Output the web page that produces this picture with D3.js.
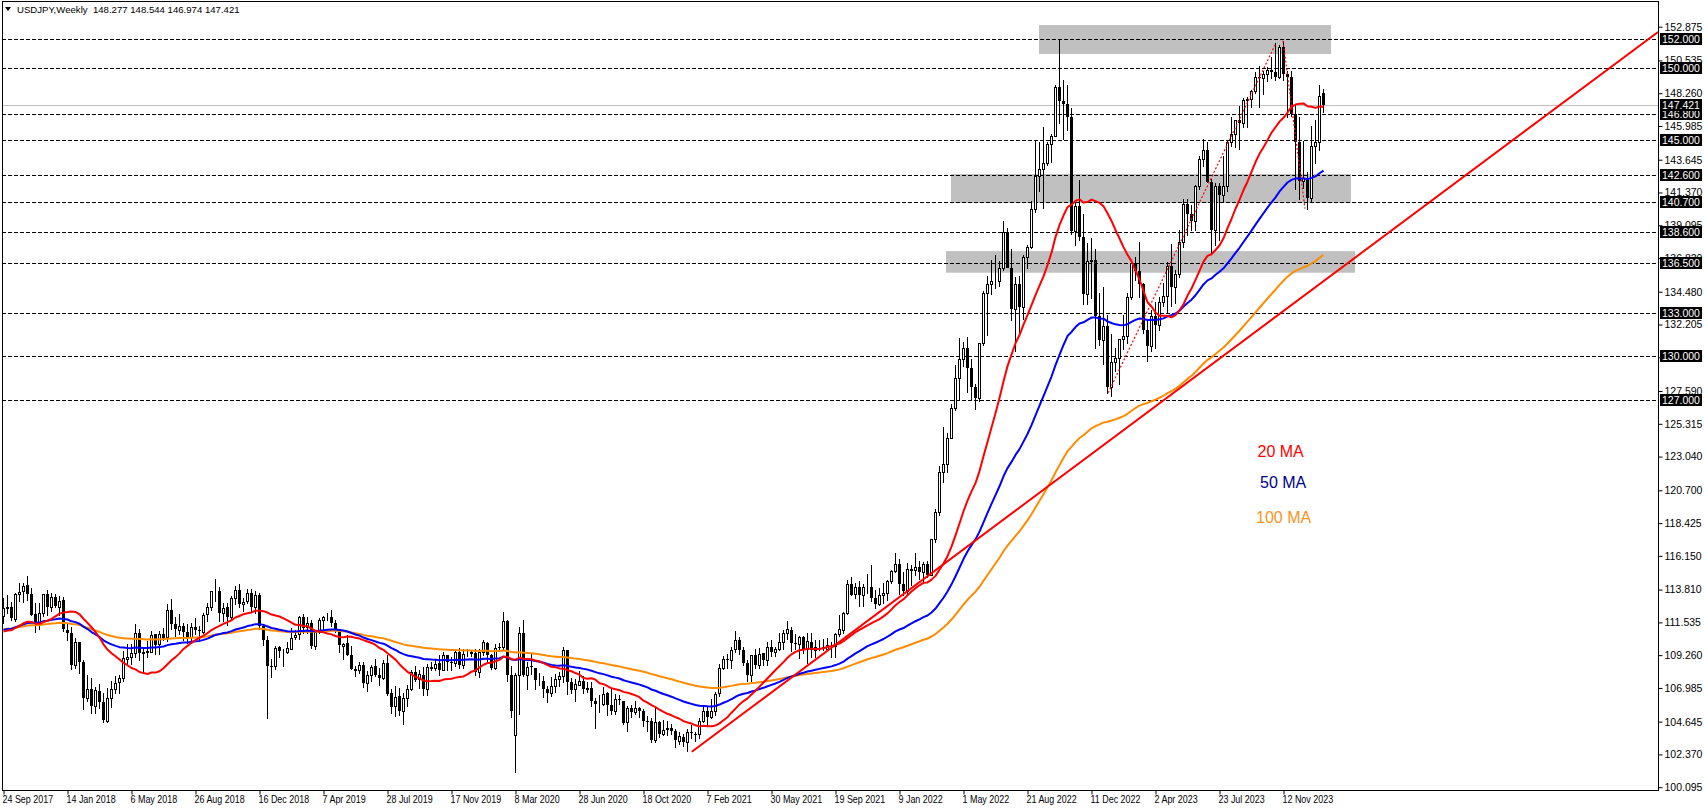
<!DOCTYPE html>
<html><head><meta charset="utf-8">
<script src="https://cdn.jsdelivr.net/npm/d3@7"></script>
<style>
html,body{margin:0;padding:0;background:#fff;}
svg{display:block;}
text{font-family:"Liberation Sans",Arial,sans-serif;}
</style></head>
<body><svg id="chart" width="1704" height="810"></svg>
<script>
// ---- DATA ----
const symbolTitle = "USDJPY,Weekly  148.277 148.544 146.974 147.421";
const weekOpen = [112.0,112.5,112.6,111.8,113.5,113.7,114.1,113.5,112.1,111.5,112.2,113.5,112.6,113.3,112.6,113.1,111.0,110.8,108.6,110.2,108.8,106.3,106.9,105.7,106.8,106.0,104.7,106.3,106.9,107.4,107.7,109.0,109.1,109.4,110.8,109.4,109.5,109.5,110.7,110.0,110.7,110.5,112.4,111.4,111.0,111.3,110.9,110.5,111.2,111.0,110.9,112.1,112.6,113.7,113.7,112.2,112.6,111.9,113.2,113.8,112.8,113.0,113.6,112.6,113.4,111.3,110.3,108.5,108.5,109.8,109.5,109.5,109.7,110.5,110.7,111.9,111.2,111.5,109.9,110.9,111.7,111.9,111.9,111.5,111.1,109.9,110.1,109.3,108.3,108.2,108.6,107.3,107.9,108.5,107.9,107.7,108.7,106.6,105.7,106.4,105.4,106.3,106.9,108.1,107.6,107.9,106.9,108.4,108.4,108.7,108.2,109.3,108.8,108.7,109.5,108.6,109.4,109.4,109.4,108.1,109.5,110.1,109.3,108.4,109.8,109.8,111.6,107.9,103.7,107.9,110.8,107.9,108.5,108.4,107.5,107.5,106.9,106.6,107.1,107.6,107.8,109.6,107.4,106.9,107.2,107.5,106.9,107.0,106.1,105.9,105.9,106.6,105.8,105.4,106.2,106.1,104.6,105.6,105.3,105.6,105.4,104.7,104.7,103.4,104.6,103.8,104.1,104.2,104.0,103.3,103.6,103.2,103.9,103.8,103.8,104.7,105.4,105.0,105.4,106.6,108.4,109.0,108.9,109.7,110.3,109.6,108.7,107.9,109.3,108.6,109.4,108.9,109.8,109.5,109.7,110.2,110.8,111.0,110.1,110.0,110.5,109.7,110.2,109.6,109.8,109.8,109.7,109.9,109.9,110.7,111.0,112.2,114.2,113.5,114.0,113.4,114.0,114.0,113.2,112.8,113.4,113.6,114.4,115.1,115.6,114.2,113.7,115.2,115.2,115.4,115.0,115.6,114.8,117.3,119.2,122.0,122.5,124.3,126.4,128.5,129.8,130.6,129.2,127.9,127.1,130.9,134.4,135.0,135.2,135.2,136.1,138.6,136.1,133.3,135.0,133.4,136.9,137.6,140.2,142.5,143.0,143.4,144.7,145.3,148.7,147.7,147.5,146.6,138.7,140.4,138.3,134.3,136.6,136.7,132.8,131.1,132.1,127.9,129.6,129.9,131.2,131.4,134.1,136.5,135.9,135.0,131.8,130.7,132.8,132.2,133.8,134.2,136.3,134.8,135.7,137.9,140.6,139.9,139.4,141.8,143.7,144.3,142.1,138.8,141.8,141.2,141.8,144.9,145.4,146.4,146.2,147.8,147.85,148.4,149.4,149.3,149.6,149.9,149.7,149.4,151.5,149.6,149.4,146.8,144.9,142.2,142.4,141.0,144.6,144.9,148.277];
const weekHigh = [113.26,113.43,112.95,113.57,114.25,114.3,114.73,113.9,112.9,112.9,113.5,113.75,113.6,113.5,113.38,113.3,111.5,111.2,110.48,110.2,108.9,107.9,107.67,107.04,107.29,106.63,107.0,107.49,107.78,107.9,109.57,110.05,110.0,111.4,111.08,109.84,110.27,110.91,110.75,110.93,111.13,112.8,113.18,111.9,112.15,111.5,111.43,111.5,111.83,111.28,112.18,112.88,113.7,114.55,113.98,112.9,112.89,113.39,114.07,114.2,113.2,113.84,113.83,113.7,113.6,111.4,110.6,109.0,109.88,109.9,109.68,110.16,111.13,111.0,112.0,112.14,111.9,111.69,111.0,111.83,112.0,112.17,112.4,111.7,111.1,110.1,110.67,109.9,108.5,108.8,108.8,108.16,108.6,108.99,108.35,108.9,109.3,106.9,107.1,106.98,106.6,107.2,108.2,108.48,108.2,108.47,108.63,108.8,108.9,109.3,109.49,109.3,109.1,109.7,109.73,109.7,109.7,109.6,109.7,109.7,110.29,110.2,109.35,110.03,110.13,112.23,111.7,108.5,108.0,111.2,111.71,108.75,109.38,108.4,108.05,107.8,107.13,107.77,107.95,108.08,109.85,109.6,107.64,107.6,108.16,107.8,107.4,107.4,106.3,106.47,107.05,106.7,106.95,106.55,106.5,106.1,105.7,105.8,106.1,105.63,105.5,105.06,104.9,105.65,104.7,104.75,104.7,104.5,104.1,103.9,103.8,104.1,104.4,103.9,104.9,105.76,105.7,106.22,106.7,108.64,109.2,109.36,109.85,110.97,110.5,109.8,108.9,109.3,109.7,109.79,109.4,110.2,110.32,109.8,110.8,111.0,111.66,111.2,110.7,110.6,110.6,110.8,110.8,110.3,110.3,110.4,110.45,110.2,110.8,112.07,112.25,114.47,114.7,114.3,114.4,114.2,114.9,115.5,113.8,113.9,114.3,114.5,115.2,116.35,115.9,115.06,115.68,115.5,116.34,115.8,115.7,115.8,117.3,119.4,122.4,125.1,124.7,126.7,129.4,131.25,131.0,131.35,129.8,128.1,130.9,134.55,135.6,136.7,137.0,136.6,139.4,138.9,137.45,135.5,135.6,137.0,137.7,140.8,144.98,144.9,145.9,144.9,145.4,148.85,151.95,149.2,148.8,147.2,140.8,142.25,139.9,137.85,138.2,137.45,134.4,134.8,132.85,131.55,130.6,131.2,132.9,134.4,136.5,136.9,137.9,135.1,132.6,133.2,133.8,134.1,135.1,136.55,137.8,136.0,138.75,140.9,140.9,140.5,141.9,143.9,145.07,144.9,142.3,142.0,142.0,143.9,145.0,146.6,146.4,147.4,147.9,148.0,148.45,149.7,150.16,149.8,150.1,150.77,151.72,151.6,151.91,149.8,149.8,147.5,146.6,144.95,142.8,145.98,146.4,148.8,148.544];
const weekLow = [111.47,112.2,111.7,111.66,113.05,112.95,113.1,112.03,110.84,111.06,111.98,112.03,112.3,112.6,112.06,110.92,110.3,108.28,108.4,108.05,105.55,106.08,105.25,105.22,105.6,104.63,104.65,105.67,106.6,106.6,107.45,108.65,108.62,109.1,108.94,108.1,109.1,109.5,109.37,109.37,110.28,110.27,111.1,110.57,110.75,110.3,110.1,110.1,110.7,110.38,110.79,111.66,112.36,113.0,111.63,111.63,111.38,111.78,112.8,112.6,112.3,112.9,112.23,112.2,111.1,109.98,104.87,107.77,108.3,109.13,108.5,109.4,109.67,110.35,110.4,110.8,110.8,109.75,109.7,110.8,110.84,111.7,111.3,110.9,109.47,109.02,109.25,108.28,107.81,108.0,107.03,106.78,107.5,107.78,107.2,107.6,106.5,105.26,105.05,105.1,104.46,105.73,106.86,107.5,107.01,106.5,106.48,108.25,108.24,107.9,108.2,108.2,108.2,108.5,108.4,108.4,109.18,109.2,107.85,107.77,109.3,108.87,108.3,108.3,109.57,109.67,107.5,104.97,101.18,105.15,107.8,106.9,107.97,106.92,107.2,106.35,106.02,106.45,106.7,107.1,107.4,106.58,106.65,106.07,107.2,106.64,106.67,105.7,104.19,105.3,105.8,105.1,105.2,105.2,105.85,104.5,104.0,104.94,105.2,104.95,104.35,104.0,103.2,103.2,103.6,103.7,103.7,103.8,102.88,103.1,102.95,102.59,103.5,103.3,103.5,104.6,104.4,104.9,105.1,106.4,108.33,108.4,108.4,109.5,109.36,108.6,107.48,107.47,108.34,108.4,108.6,108.6,109.2,109.2,109.6,109.7,110.4,109.53,109.7,109.06,109.4,108.7,109.1,109.1,109.6,109.6,109.6,109.1,109.1,110.6,110.8,112.1,113.4,113.25,112.7,112.7,113.6,113.05,112.55,112.75,112.9,113.1,114.3,115.0,113.48,113.46,113.5,114.16,114.8,114.55,114.4,114.65,114.8,117.1,119.0,121.3,121.95,124.3,126.3,126.95,129.3,127.5,127.05,126.35,126.9,130.8,131.5,134.3,134.75,134.9,136.0,136.6,132.5,130.4,131.7,132.6,136.1,137.5,140.0,141.5,140.3,143.3,143.5,145.3,146.2,145.1,145.7,138.5,137.7,138.05,133.6,133.6,134.05,130.6,130.8,129.5,127.45,127.22,129.0,128.1,130.5,130.9,134.0,135.3,134.1,131.6,129.65,130.4,130.6,131.8,133.5,133.0,133.5,133.7,135.5,137.6,138.4,138.8,138.8,141.6,143.2,142.1,137.25,137.7,138.1,140.7,141.5,144.6,144.5,144.4,145.9,145.9,147.3,148.3,147.3,148.2,149.1,149.3,149.2,149.3,149.2,146.6,146.7,141.6,140.95,141.7,140.25,140.8,143.4,144.3,146.974];
const weekClose = [112.51,112.63,111.82,113.52,113.67,114.06,113.53,112.07,111.52,112.2,113.47,112.6,113.28,112.67,113.05,111.04,110.77,108.6,110.16,108.76,106.3,106.9,105.74,106.82,106.0,104.73,106.3,106.92,107.35,107.65,109.04,109.12,109.39,110.8,109.44,109.5,109.54,110.66,109.98,110.73,110.46,112.37,111.4,111.04,111.25,110.86,110.5,111.24,111.03,110.95,112.05,112.58,113.69,113.71,112.17,112.55,111.88,113.2,113.8,112.82,112.97,113.57,112.62,113.4,111.26,110.3,108.51,108.48,109.77,109.55,109.5,109.73,110.48,110.68,111.92,111.17,111.46,109.92,110.86,111.73,111.9,111.92,111.5,111.1,109.95,110.06,109.28,108.3,108.19,108.57,107.3,107.87,108.46,107.9,107.68,108.68,106.58,105.67,106.35,105.4,106.28,106.9,108.09,107.56,107.92,106.92,108.43,108.45,108.66,108.2,109.26,108.79,108.68,109.5,108.59,109.36,109.43,109.45,108.1,109.46,110.14,109.28,108.35,109.75,109.79,111.6,107.9,105.39,107.9,110.8,107.9,108.45,108.45,107.53,107.5,106.9,106.65,107.1,107.62,107.8,109.6,107.37,106.87,107.23,107.5,106.9,107.0,106.1,105.9,105.9,106.58,105.8,105.36,106.22,106.14,104.57,105.57,105.3,105.6,105.4,104.7,104.66,103.35,104.6,103.8,104.05,104.2,104.0,103.35,103.65,103.24,103.94,103.87,103.78,104.7,105.4,104.95,105.4,106.55,108.35,109.0,108.9,109.6,110.3,109.6,108.7,107.9,109.3,108.6,109.35,108.95,109.85,109.5,109.7,110.2,110.8,111.05,110.1,110.06,110.55,109.7,110.25,109.6,109.8,109.8,109.7,109.95,109.9,110.75,111.05,112.2,114.2,113.45,114.0,113.4,114.0,114.0,113.2,112.8,113.4,113.6,114.4,115.1,115.6,114.2,113.7,115.25,115.25,115.4,115.0,115.6,114.8,117.3,119.2,122.0,122.5,124.3,126.4,128.5,129.8,130.6,129.2,127.9,127.1,130.9,134.4,135.0,135.2,135.2,136.1,138.6,136.1,133.3,135.0,133.4,136.9,137.6,140.2,142.5,143.0,143.4,144.7,145.3,148.7,147.7,147.5,146.6,138.7,140.4,138.3,134.3,136.6,136.7,132.8,131.1,132.1,127.9,129.6,129.9,131.2,131.4,134.1,136.5,135.9,135.0,131.8,130.7,132.8,132.2,133.8,134.2,136.3,134.8,135.7,137.9,140.6,139.9,139.4,141.8,143.7,144.3,142.1,138.8,141.8,141.2,141.8,144.9,145.4,146.4,146.2,147.8,147.85,148.4,149.4,149.3,149.6,149.9,149.7,149.4,151.5,149.6,149.4,146.8,144.9,142.2,142.4,141.0,144.6,144.9,148.1,147.421];
// weekly closes of the 99 weeks before the first visible bar (history the averages need)
const priorCloses = [121.4,120.6,123.1,122.6,122.8,122.9,123.1,121.0,121.3,120.5,117.2,117.1,118.8,121.1,116.9,113.2,112.6,114.0,113.8,113.5,111.5,113.0,108.0,108.7,111.8,106.3,107.1,108.6,110.2,110.2,106.5,107.0,104.5,102.2,102.5,100.5,104.9,106.0,102.1,101.9,101.3,100.2,101.8,103.9,102.6,102.3,101.0,101.3,102.9,104.2,103.8,104.7,103.1,106.6,110.9,113.3,113.5,115.4,117.9,117.3,117.0,117.0,114.5,114.6,115.1,112.6,113.2,113.3,112.1,114.0,114.8,112.7,111.3,111.4,110.8,108.6,109.1,111.5,112.7,113.4,111.3,111.3,110.4,110.3,110.9,111.3,112.4,113.9,112.5,111.1,110.7,110.7,109.2,109.2,109.4,110.2,107.8,110.8,112.0];
// moving averages: 20 simple, 50 and 100 exponential (start levels estimated for Oct 2015)
const maPeriods = [20, 50, 100];
const maTypes = ["sma", "ema", "ema"];
const maStartLevels = [null, 119.5, 113.0];
const maNames = ["20 MA", "50 MA", "100 MA"];
const yTickLabels = [152.875,150.535,148.260,145.985,143.645,141.370,139.095,136.820,134.480,132.205,129.930,127.590,125.315,123.040,120.700,118.425,116.150,113.810,111.535,109.260,106.985,104.645,102.370,100.095];
const levelPrices = [152.000,150.000,146.800,145.000,142.600,140.700,138.600,136.500,133.000,130.000,127.000];
const lastPrice = 147.421;
const dateLabels = ["24 Sep 2017","14 Jan 2018","6 May 2018","26 Aug 2018","16 Dec 2018","7 Apr 2019","28 Jul 2019","17 Nov 2019","8 Mar 2020","28 Jun 2020","18 Oct 2020","7 Feb 2021","30 May 2021","19 Sep 2021","9 Jan 2022","1 May 2022","21 Aug 2022","11 Dec 2022","2 Apr 2023","23 Jul 2023","12 Nov 2023"];
const dateLabelBars = [0,16,32,48,64,80,96,112,128,144,160,176,192,208,224,240,256,272,288,304,320];
// zones: [startBar, endBar] and [topPrice, bottomPrice]
const zoneBars = [[259,332],[237,337],[235.75,338]];
const zonePrices = [[152.99,150.98],[142.65,140.64],[137.30,135.80]];
// trend line anchors [bar, price]
const trendAnchors = [[172.2,102.56],[320,133.12]];
const dottedPaths = [[[276.3,127.47],[318,151.6]],[[320,151.9],[325.5,140.25]]];

// ---- LAYOUT ----
const svg = d3.select("#chart");
const plot = {left:2, right:1658, top:1, bottom:790};
const x = d3.scaleLinear().domain([0, 330]).range([3, 1323]);
const y = d3.scaleLinear().domain([100.095, 152.875]).range([787.2, 26.7]);
const n = weekClose.length;
const allCloses = priorCloses.concat(weekClose);

svg.append("rect").attr("width",1704).attr("height",810).attr("fill","#fff");
const g = svg.append("g");
svg.append("clipPath").attr("id","plotclip").append("rect")
  .attr("x",plot.left+1).attr("y",plot.top+1).attr("width",plot.right-plot.left-1).attr("height",plot.bottom-plot.top-1);
const pg = g.append("g").attr("clip-path","url(#plotclip)");

// zones
pg.selectAll("rect.zone").data(zoneBars).enter().append("rect")
  .attr("x",(d)=>x(d[0])).attr("width",(d)=>x(d[1])-x(d[0]))
  .attr("y",(d,i)=>y(zonePrices[i][0])).attr("height",(d,i)=>y(zonePrices[i][1])-y(zonePrices[i][0]))
  .attr("fill","#c0c0c0");

// current price line
pg.append("line").attr("x1",plot.left).attr("x2",plot.right)
  .attr("y1",Math.round(y(lastPrice))+0.5).attr("y2",Math.round(y(lastPrice))+0.5)
  .attr("stroke","#c0c0c0").attr("stroke-width",1);

// level lines
pg.selectAll("line.level").data(levelPrices).enter().append("line")
  .attr("x1",plot.left).attr("x2",plot.right)
  .attr("y1",d=>Math.round(y(d))+0.5).attr("y2",d=>Math.round(y(d))+0.5)
  .attr("stroke","#000").attr("stroke-width",1).attr("stroke-dasharray","4,2");

// candles
const cg = pg.append("g");
d3.range(n).forEach(i=>{
  const cx = Math.round(x(i));
  const o = weekOpen[i], h = weekHigh[i], l = weekLow[i], c = weekClose[i];
  cg.append("line").attr("x1",cx+0.5).attr("x2",cx+0.5)
    .attr("y1",Math.round(y(h))).attr("y2",Math.round(y(l))+1)
    .attr("stroke","#000").attr("stroke-width",1);
  const top = Math.round(y(Math.max(o,c))), bot = Math.round(y(Math.min(o,c)));
  if (c >= o) {
    cg.append("rect").attr("x",cx-0.5).attr("y",top+0.5).attr("width",2).attr("height",Math.max(bot-top,0))
      .attr("fill","#fff").attr("stroke","#000").attr("stroke-width",1);
  } else {
    cg.append("rect").attr("x",cx-1).attr("y",top).attr("width",3).attr("height",Math.max(bot-top,1))
      .attr("fill","#000");
  }
});

// moving averages
function movingAverage(k){
  const p = maPeriods[k], out = [];
  const off = priorCloses.length;
  if (maTypes[k] === "sma") {
    for(let i=0;i<n;i++){
      const j=i+off;
      out.push(j-p+1<0 ? null : d3.mean(allCloses.slice(j-p+1,j+1)));
    }
  } else {
    const a = 2/(p+1);
    let e = maStartLevels[k];
    allCloses.forEach((c,j)=>{ e = e + a*(c-e); if (j>=off) out.push(e); });
  }
  return out;
}
const maColors = ["#ff0000","#0000ff","#ff8c00"];
[2,1,0].forEach(k=>{
  const vals = movingAverage(k);
  const line = d3.line().defined(d=>d!=null).x((d,i)=>Math.round(x(i))+0.5).y(d=>y(d));
  pg.append("path").datum(vals).attr("d",line).attr("fill","none")
    .attr("stroke",maColors[k]).attr("stroke-width",2).attr("stroke-linejoin","round");
});

// trend line extended to right edge
{
  const [a,b] = trendAnchors;
  const slope = (b[1]-a[1])/(b[0]-a[0]);
  const endBar = x.invert(plot.right);
  const endPrice = a[1] + slope*(endBar-a[0]);
  pg.append("line").attr("x1",x(a[0])).attr("y1",y(a[1])).attr("x2",x(endBar)).attr("y2",y(endPrice))
    .attr("stroke","#ff0000").attr("stroke-width",2);
}
// dotted lines
dottedPaths.forEach(p=>{
  pg.append("path").attr("d",d3.line().x(d=>x(d[0])).y(d=>y(d[1]))(p))
    .attr("fill","none").attr("stroke","#ff0000").attr("stroke-width",1.2).attr("stroke-dasharray","2,2");
});

// MA labels
const labelPos = [[1257.5,457],[1260,488],[1256,523]];
const labelColors = ["#ff0000","#00008b","#f7931e"];
maNames.forEach((t,i)=>{
  g.append("text").attr("x",labelPos[i][0]).attr("y",labelPos[i][1]).text(t)
    .attr("font-size",16).attr("fill",labelColors[i]);
});

// frame
g.append("rect").attr("x",plot.left+0.5).attr("y",plot.top+0.5)
  .attr("width",plot.right-plot.left).attr("height",plot.bottom-plot.top)
  .attr("fill","none").attr("stroke","#000").attr("stroke-width",1);

// title
g.append("path").attr("d","M5,7 L11,7 L8,11 Z").attr("fill","#000");
g.append("text").attr("x",17).attr("y",13).text(symbolTitle)
  .attr("font-size",9.6).attr("fill","#000").attr("xml:space","preserve");

// y axis ticks
const yAxis = d3.axisRight(y).tickValues(yTickLabels).tickSize(4).tickPadding(2)
  .tickFormat(d3.format(".3f"));
const ya = g.append("g").attr("transform",`translate(${plot.right+0.5},0)`).call(yAxis);
ya.select(".domain").remove();
ya.selectAll("text").attr("font-size",10.5).attr("font-family","Liberation Sans, Arial, sans-serif").attr("fill","#000");
ya.selectAll("line").attr("stroke","#000");

// level boxes
levelPrices.concat([lastPrice]).forEach(p=>{
  const yy = Math.round(y(p));
  g.append("rect").attr("x",plot.right+2).attr("y",yy-6).attr("width",42).attr("height",12).attr("fill","#000");
  g.append("text").attr("x",plot.right+4).attr("y",yy+4).text(d3.format(".3f")(p))
    .attr("font-size",10.5).attr("fill","#fff");
});

// x axis labels (condensed like the terminal font)
const xAxis = d3.axisBottom(x).tickValues(dateLabelBars).tickSize(4).tickFormat((d,i)=>dateLabels[i]);
const xa = g.append("g").attr("transform",`translate(0,${plot.bottom+0.5})`).call(xAxis);
xa.select(".domain").remove();
xa.selectAll("text").attr("text-anchor","start").attr("dx",-1).attr("dy","0.55em")
  .attr("font-size",10.5).attr("font-family","Liberation Sans, Arial, sans-serif").attr("fill","#000")
  .each(function(){ const w=this.getComputedTextLength(); d3.select(this).attr("textLength",w*0.85).attr("lengthAdjust","spacingAndGlyphs"); });
xa.selectAll(".tick line").attr("stroke","#000").attr("transform","translate(0.5,0)");
</script></body></html>
